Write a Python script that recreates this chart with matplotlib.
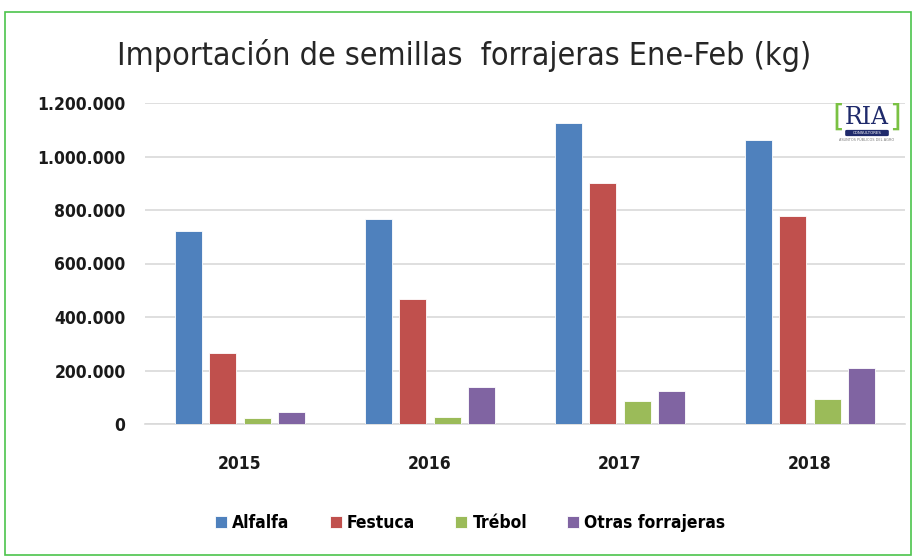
import numpy as np
import matplotlib.pyplot as plt
from matplotlib.patches import Rectangle, FancyBboxPatch
from matplotlib.ticker import FuncFormatter

years = ["2015", "2016", "2017", "2018"]
series = ["Alfalfa", "Festuca", "Trébol", "Otras forrajeras"]
alfalfa = [721000, 765000, 1125000, 1060000]
festuca = [266000, 469000, 902000, 778000]
trebol = [21000, 28000, 85000, 94000]
otras = [43000, 137000, 122000, 210000]
colors = ["#4f81bd", "#c0504d", "#9bbb59", "#8064a2"]

fam = ["DejaVu Sans"]

fig = plt.figure(figsize=(9.15, 5.59), dpi=100)
ax = fig.add_axes([145 / 915, 1 - 424 / 559, 760 / 915, 321 / 559])

x = np.arange(len(years))
pitch = 0.18
width = 0.142
for i, (name, vals) in enumerate(zip(series, [alfalfa, festuca, trebol, otras])):
    ax.bar(x + (i - 1.5) * pitch, vals, width, color=colors[i], label=name,
           edgecolor="white", linewidth=0.6, zorder=3)

ax.set_xlim(-0.5, 3.5)
ax.set_ylim(0, 1200000)
ax.set_yticks(range(0, 1200001, 200000))
ax.yaxis.set_major_formatter(FuncFormatter(lambda v, p: f"{int(v):,}".replace(",", ".")))
ax.set_xticks(x)
ax.set_xticklabels(years)
ax.grid(axis="y", color="#d9d9d9", linewidth=1.2, zorder=0)
for s in ["top", "right", "left"]:
    ax.spines[s].set_visible(False)
ax.spines["bottom"].set_color("#d9d9d9")
ax.spines["bottom"].set_linewidth(1.2)
ax.tick_params(length=0)
ax.tick_params(axis="y", pad=14)
ax.tick_params(axis="x", pad=22)
for lab in ax.get_xticklabels() + ax.get_yticklabels():
    lab.set_fontfamily(fam)
    lab.set_fontweight("bold")
    lab.set_fontstretch("condensed")
    lab.set_fontsize(12.5)
    lab.set_color("#1a1a1a")

fig.text(0.507, 1 - 55 / 559, "Importación de semillas  forrajeras Ene-Feb (kg)",
         ha="center", va="center", fontsize=23, family=fam,
         fontstretch="condensed", color="#262626")

leg = fig.legend(loc="center", bbox_to_anchor=(0.514, 1 - 523 / 559), ncol=4,
                 frameon=False, handlelength=0.7, handleheight=0.7,
                 handletextpad=0.3, columnspacing=2.3,
                 prop={"family": fam, "weight": "bold", "size": 12.5,
                       "stretch": "condensed"})

# green frame around the chart
fig.patches.append(Rectangle((5 / 915, 4 / 559), 906 / 915, 543 / 559,
                             transform=fig.transFigure, fill=False,
                             edgecolor="#4cc44c", linewidth=1.2))

# RIA logo
fig.text(867 / 915, 1 - 117 / 559, "RIA", ha="center", va="center",
         fontsize=17, family="DejaVu Serif", color="#1f2a6b")
fig.text(838 / 915, 1 - 117 / 559, "[", ha="center", va="center",
         fontsize=22, color="#7ac143")
fig.text(895 / 915, 1 - 117 / 559, "]", ha="center", va="center",
         fontsize=22, color="#7ac143")
fig.patches.append(FancyBboxPatch((847 / 915, 1 - 135 / 559), 40 / 915, 4 / 559,
                                  boxstyle="round,pad=0.002",
                                  transform=fig.transFigure,
                                  facecolor="#1f2a6b", edgecolor="none"))
fig.text(867 / 915, 1 - 133 / 559, "CONSULTORES", ha="center", va="center",
         fontsize=2.8, color="white")
fig.text(867 / 915, 1 - 140 / 559, "ASUNTOS PÚBLICOS DEL AGRO", ha="center",
         va="center", fontsize=2.5, color="#777777")

fig.savefig("out.png", dpi=100)
